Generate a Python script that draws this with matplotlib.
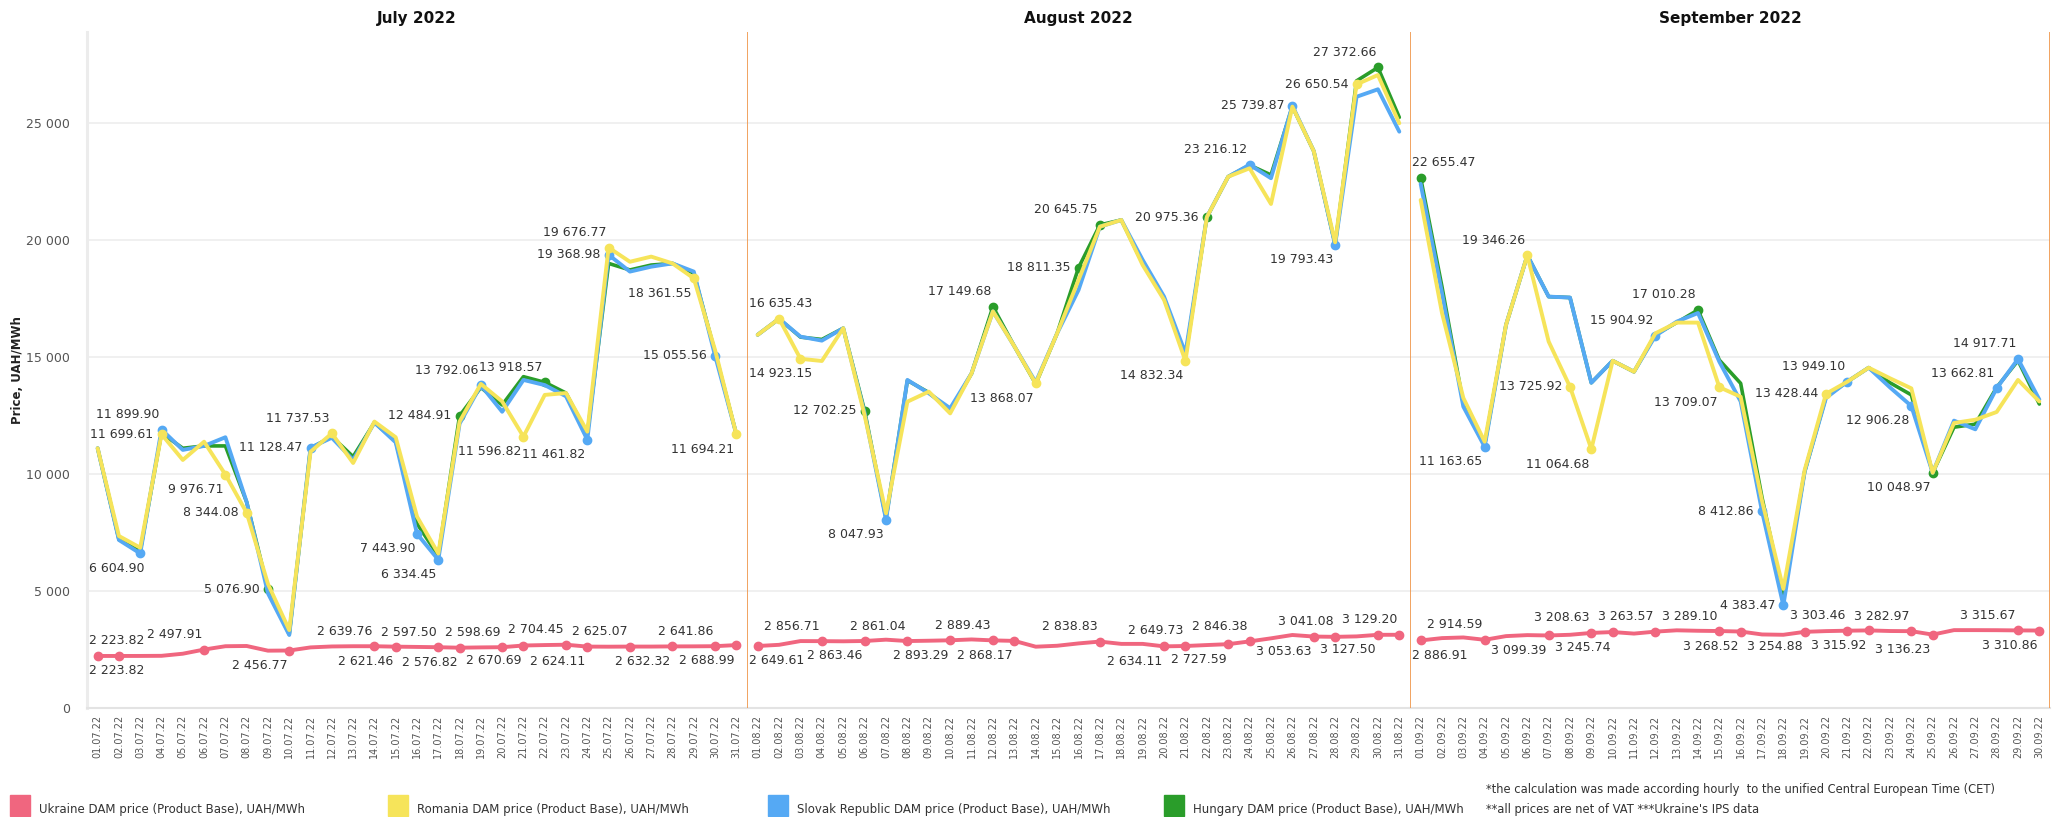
import matplotlib
matplotlib.use("Agg")
import matplotlib.pyplot as plt
from matplotlib.patches import Rectangle

# ---- data (UAH/MWh, daily) -------------------------------------------
months = ["July 2022", "August 2022", "September 2022"]
month_codes = ["07", "08", "09"]

ukr_jul = [2223.82, 2223.82, 2225, 2230, 2320, 2497.91, 2640, 2650, 2450, 2456.77, 2590,
           2630, 2640, 2639.76, 2621.46, 2610, 2597.50, 2576.82, 2590, 2598.69, 2670.69,
           2690, 2704.45, 2624.11, 2620, 2625.07, 2625, 2632.32, 2635, 2641.86, 2688.99]
rom_jul = [11100, 7350, 6850, 11699.61, 10600, 11380, 9976.71, 8344.08, 5300, 3330, 10950,
           11737.53, 10470, 12240, 11570, 8180, 6600, 12240, 13850, 13100, 11596.82,
           13380, 13460, 11810, 19676.77, 19070, 19290, 19000, 18361.55, 15300, 11694.21]
svk_jul = [11100, 7180, 6604.90, 11899.90, 11030, 11200, 11570, 8800, 4900, 3120, 11128.47,
           11550, 10600, 12200, 11350, 7443.90, 6334.45, 12150, 13792.06, 12660, 14020,
           13800, 13320, 11461.82, 19368.98, 18650, 18860, 19000, 18650, 15055.56, 11700]
hun_jul = [11100, 7200, 6700, 11750, 11100, 11200, 11200, 8800, 5076.90, 3150, 11100,
           11600, 10740, 12200, 11400, 7880, 6500, 12484.91, 13700, 12950, 14160,
           13918.57, 13460, 11700, 19000, 18720, 18930, 19000, 18580, 15200, 11700]

ukr_aug = [2649.61, 2700, 2860, 2856.71, 2850, 2863.46, 2920, 2861.04, 2875, 2893.29, 2930,
           2889.43, 2868.17, 2620, 2660, 2760, 2838.83, 2740, 2740, 2634.11, 2649.73,
           2690, 2727.59, 2846.38, 2977, 3120, 3053.63, 3041.08, 3060, 3127.50, 3129.20]
rom_aug = [15950, 16635.43, 14923.15, 14830, 16230, 12500, 8320, 13090, 13520, 12590, 14300,
           16950, 15460, 13868.07, 16010, 18290, 20570, 20855, 18930, 17440, 14832.34,
           20975, 22706, 23064, 21540, 25700, 23800, 19900, 26650.54, 27050, 24990]
svk_aug = [15950, 16635, 15870, 15700, 16230, 12600, 8047.93, 14020, 13450, 12810, 14300,
           16950, 15460, 13920, 16010, 17860, 20570, 20855, 19150, 17580, 15160,
           20975, 22706, 23216.12, 22640, 25739.87, 23800, 19793.43, 26120, 26440, 24630]
hun_aug = [15950, 16635, 15850, 15750, 16230, 12702.25, 8100, 14000, 13480, 12700, 14300,
           17149.68, 15460, 13850, 16010, 18811.35, 20645.75, 20855, 19000, 17500, 15000,
           20975.36, 22706, 23200, 22780, 25700, 23800, 19800, 26800, 27372.66, 25240]

ukr_sep = [2886.91, 2987, 3015, 2914.59, 3072, 3115, 3099.39, 3129, 3208.63, 3245.74, 3180,
           3263.57, 3320, 3300, 3289.10, 3268.52, 3143, 3129, 3254.88, 3286, 3303.46,
           3315.92, 3290, 3282.97, 3136.23, 3328, 3328, 3325, 3315.67, 3310.86]
rom_sep = [21710, 16880, 13250, 11380, 16370, 19346.26, 15660, 13725.92, 11064.68, 14840,
           14370, 16010, 16470, 16470, 13709.07, 13300, 8860, 5090, 10170, 13428.44,
           13945, 14543, 14090, 13660, 10050, 12180, 12320, 12650, 14020, 13100]
svk_sep = [22400, 17730, 12880, 11163.65, 16370, 19346.26, 17580, 17540, 13900, 14840,
           14370, 15904.92, 16510, 16880, 14800, 13100, 8412.86, 4383.47, 10100, 13250,
           13949.10, 14543, 13700, 12906.28, 10050, 12280, 11910, 13662.81, 14917.71, 13180]
hun_sep = [22655.47, 18000, 13000, 11250, 16370, 19346, 17580, 17540, 13900, 14840,
           14370, 15950, 16470, 17010.28, 14870, 13874, 9000, 4800, 10100, 13300,
           13945, 14543, 13900, 13380, 10048.97, 12000, 12130, 13700, 14850, 12990]

# labelled days -> placement (a = above, b = below, l = left)
ukr_lab = [{1: 'a', 2: 'b', 6: 'a', 10: 'b', 14: 'a', 15: 'b', 17: 'a', 18: 'b', 20: 'a',
            21: 'b', 23: 'a', 24: 'b', 26: 'a', 28: 'b', 30: 'a', 31: 'b'},
           {1: 'b', 4: 'a', 6: 'b', 8: 'a', 10: 'b', 12: 'a', 13: 'b', 17: 'a', 20: 'b',
            21: 'a', 23: 'b', 24: 'a', 27: 'b', 28: 'a', 30: 'b', 31: 'a'},
           {1: 'b', 4: 'a', 7: 'b', 9: 'a', 10: 'b', 12: 'a', 15: 'a', 16: 'b', 19: 'b',
            21: 'a', 22: 'b', 24: 'a', 25: 'b', 29: 'a', 30: 'b'}]
rom_lab = [{4: 'l', 7: 'b', 8: 'l', 12: 'a', 21: 'b', 25: 'a', 29: 'b', 31: 'b'},
           {2: 'a', 3: 'b', 14: 'b', 21: 'b', 29: 'l'},
           {6: 'a', 8: 'l', 9: 'b', 15: 'b', 20: 'l'}]
svk_lab = [{3: 'b', 4: 'a', 11: 'l', 16: 'b', 17: 'b', 19: 'a', 24: 'b', 25: 'l', 30: 'l'},
           {7: 'b', 24: 'a', 26: 'l', 28: 'b'},
           {4: 'b', 12: 'a', 17: 'l', 18: 'l', 21: 'a', 24: 'b', 28: 'a', 29: 'a'}]
hun_lab = [{9: 'l', 18: 'l', 22: 'a'},
           {6: 'l', 12: 'a', 16: 'l', 17: 'a', 22: 'l', 30: 'a'},
           {1: 'a', 14: 'a', 25: 'b'}]

legend_names = ["Ukraine DAM price (Product Base), UAH/MWh",
                "Romania DAM price (Product Base), UAH/MWh",
                "Slovak Republic DAM price (Product Base), UAH/MWh",
                "Hungary DAM price (Product Base), UAH/MWh"]

# ---- styling ---------------------------------------------------------
C_UKR, C_ROM, C_SVK, C_HUN = "#F0667F", "#F6E45A", "#55A9F4", "#2A9D2A"
C_SEP = "#EF9446"
TXT = "#333333"
plt.rcParams['font.family'] = ['DejaVu Sans']

W, H = 2065, 817
fig = plt.figure(figsize=(W / 100, H / 100), dpi=100)
panels = [(87, 747), (747, 1410), (1410, 2050)]
top, bottom = 32, 708
ymax = (bottom - top) / 117 * 5000

series_sets = [
    (ukr_jul, rom_jul, svk_jul, hun_jul),
    (ukr_aug, rom_aug, svk_aug, hun_aug),
    (ukr_sep, rom_sep, svk_sep, hun_sep),
]

PX = 72 / 100.0  # points per pixel
offs = {'a': (-2 * PX, 15 * PX), 'b': (-2 * PX, -15 * PX), 'l': (-8 * PX, 0)}


def fmt(v):
    return f"{v:,.2f}".replace(",", " ")


all_anns = []
axes = []
for i, (x0, x1) in enumerate(panels):
    ax = fig.add_axes([x0 / W, 1 - bottom / H, (x1 - x0) / W, (bottom - top) / H])
    axes.append(ax)
    ukr, rom, svk, hun = series_sets[i]
    n = len(ukr)
    days = list(range(1, n + 1))
    ax.set_xlim(0.5, n + 0.5)
    ax.set_ylim(0, ymax)
    ax.set_yticks(range(0, 25001, 5000))
    ax.grid(axis='y', color='#efefef', lw=1.3)
    ax.set_axisbelow(True)
    for s in ['top', 'right', 'left']:
        ax.spines[s].set_visible(False)
    ax.spines['bottom'].set_color('#e3e3e3')
    ax.spines['bottom'].set_linewidth(1.5)
    if i == 0:
        ax.spines['left'].set_visible(True)
        ax.spines['left'].set_color('#ececec')
        ax.spines['left'].set_linewidth(2.2)
        ax.set_yticklabels([f"{v:,}".replace(",", " ") for v in range(0, 25001, 5000)],
                           fontsize=9, color='#555555')
    else:
        ax.axvline(0.5, color=C_SEP, lw=1.2, zorder=6)
        ax.set_yticklabels([])
    if i == 2:
        ax.axvline(n + 0.5, color=C_SEP, lw=1.2, zorder=6)
    ax.tick_params(axis='both', length=0)
    ax.tick_params(axis='y', pad=12)
    ax.set_xticks(days)
    ax.set_xticklabels([f"{d:02d}.{month_codes[i]}.22" for d in days], rotation=90,
                       fontsize=7, color='#555555')
    ax.tick_params(axis='x', pad=5)

    anns = []
    for vals, col, lw, labs, z in [(hun, C_HUN, 2.6, hun_lab[i], 3),
                                   (svk, C_SVK, 2.8, svk_lab[i], 4),
                                   (rom, C_ROM, 2.8, rom_lab[i], 5),
                                   (ukr, C_UKR, 2.8, ukr_lab[i], 5)]:
        ax.plot(days, vals, color=col, lw=lw, zorder=z,
                solid_joinstyle='round', solid_capstyle='round')
        ld = sorted(labs)
        ax.plot(ld, [vals[d - 1] for d in ld], 'o', color=col, ms=6, zorder=z)
        for d in ld:
            a = ax.annotate(fmt(vals[d - 1]), (d, vals[d - 1]), xytext=offs[labs[d]],
                            textcoords='offset points', ha='right', va='center',
                            fontsize=9, color=TXT, zorder=8)
            anns.append(a)
    all_anns.append(anns)

    fig.text((x0 + x1) / 2 / W, 1 - 18 / H, months[i], ha='center', va='center',
             fontsize=11, fontweight='bold', color='#111111')

fig.text(18 / W, 1 - 370 / H, "Price, UAH/MWh", rotation=90, ha='center', va='center',
         fontsize=8.5, fontweight='bold', color='#222222')

# keep labels inside their pane (shift right where they would overflow the left edge)
fig.canvas.draw()
r = fig.canvas.get_renderer()
for ax, anns in zip(axes, all_anns):
    left = ax.get_window_extent(r).x0 + 2
    for a in anns:
        bb = a.get_window_extent(r)
        if bb.x0 < left:
            ox, oy = a.xyann
            a.xyann = (ox + (left - bb.x0) * PX, oy)

# legend
leg_x = [10, 388, 768, 1164]
for x, col, name in zip(leg_x, [C_UKR, C_ROM, C_SVK, C_HUN], legend_names):
    fig.add_artist(Rectangle((x / W, 1 - 816 / H), 20 / W, 21 / H, color=col,
                             transform=fig.transFigure))
    fig.text((x + 29) / W, 1 - 809 / H, name, ha='left', va='center', fontsize=8.5,
             color=TXT)
fig.text(1486 / W, 1 - 790 / H,
         "*the calculation was made according hourly  to the unified Central European Time (CET)",
         ha='left', va='center', fontsize=8.3, color=TXT)
fig.text(1486 / W, 1 - 810 / H, "**all prices are net of VAT ***Ukraine's IPS data",
         ha='left', va='center', fontsize=8.3, color=TXT)

fig.savefig("out.png", dpi=100)
